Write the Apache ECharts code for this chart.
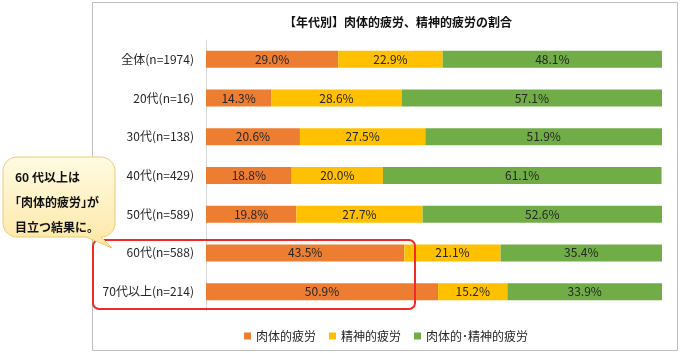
<!DOCTYPE html>
<html><head><meta charset="utf-8">
<script src="https://cdn.jsdelivr.net/npm/echarts@6/dist/echarts.min.js"></script>
<style>html,body{margin:0;padding:0;background:#fff}#c{width:680px;height:353px}</style>
</head><body><div id="c"></div>
<script>
const categories = ['全体(n=1974)','20代(n=16)','30代(n=138)','40代(n=429)','50代(n=589)','60代(n=588)','70代以上(n=214)'];
const physical = [29.0, 14.3, 20.6, 18.8, 19.8, 43.5, 50.9];
const mental = [22.9, 28.6, 27.5, 20.0, 27.7, 21.1, 15.2];
const both = [48.1, 57.1, 51.9, 61.1, 52.6, 35.4, 33.9];
const seriesNames = ['肉体的疲労','精神的疲労','肉体的･精神的疲労'];
const colors = ['#ed7d31','#ffc000','#70ad47'];
const FONT = '"Noto Sans CJK JP","Noto Sans",sans-serif';

// callout outline (rounded box with tail)
function calloutPoints(x0, y0, x1, y1, r){
  const pts = [];
  function arc(cx, cy, a0, a1){
    for (let i = 0; i <= 8; i++){
      const a = a0 + (a1 - a0) * i / 8;
      pts.push([cx + r * Math.cos(a), cy + r * Math.sin(a)]);
    }
  }
  arc(x0 + r, y0 + r, Math.PI, 1.5 * Math.PI);
  arc(x1 - r, y0 + r, 1.5 * Math.PI, 2 * Math.PI);
  arc(x1 - r, y1 - r, 0, 0.5 * Math.PI);
  pts.push([112, 248]);
  pts.push([86, y1]);
  arc(x0 + r, y1 - r, 0.5 * Math.PI, Math.PI);
  return pts;
}

const chart = echarts.init(document.getElementById('c'));
function mk(name, data, color){
  return {name, type:'bar', stack:'t', data, barWidth:17,
    itemStyle:{color},
    label:{show:true, position:'inside', formatter:p=>p.value.toFixed(1)+'%', color:'#262626', fontSize:12, fontFamily:FONT},
    emphasis:{disabled:true}};
}
chart.setOption({
  animation:false,
  textStyle:{fontFamily:FONT},
  title:{text:'【年代別】肉体的疲労、精神的疲労の割合', left:279, top:11,
    textStyle:{fontSize:12, fontWeight:'bold', color:'#111', fontFamily:FONT}},
  legend:{data:seriesNames, left:239, top:325, itemWidth:7, itemHeight:7, itemGap:13, icon:'rect',
    textStyle:{fontSize:12, color:'#262626', fontFamily:FONT}},
  grid:{left:206, right:18, top:40, height:271, containLabel:false},
  xAxis:{type:'value', min:0, max:100, show:false},
  yAxis:{type:'category', data:categories, inverse:true,
    axisLine:{lineStyle:{color:'#d9d9d9'}}, axisTick:{show:false},
    axisLabel:{fontSize:12, color:'#262626', margin:12, fontFamily:FONT}},
  series:[mk(seriesNames[0], physical, colors[0]), mk(seriesNames[1], mental, colors[1]), mk(seriesNames[2], both, colors[2])],
  graphic:[
    {type:'rect', shape:{x:92.5, y:2.5, width:585, height:348}, style:{fill:'none', stroke:'#bfbfbf', lineWidth:1}, z:0, silent:true},
    {type:'rect', shape:{x:93, y:240, width:322, height:69, r:6}, style:{fill:'none', stroke:'#ee2a2a', lineWidth:2}, z:50, silent:true},
    {type:'polygon', shape:{points:calloutPoints(3, 157, 115, 237, 14)},
      style:{fill:{type:'linear', x:0, y:0, x2:0, y2:1, colorStops:[{offset:0,color:'#fffbe3'},{offset:1,color:'#fde7a4'}]}, stroke:'#f3c879', lineWidth:1}, z:60, silent:true},
    {type:'text', left:15, top:165, z:61, silent:true,
      style:{text:'60 代以上は\n｢肉体的疲労｣が\n目立つ結果に。', fontSize:12, fontWeight:'bold', fill:'#111', lineHeight:25, fontFamily:FONT}}
  ]
});
</script></body></html>
